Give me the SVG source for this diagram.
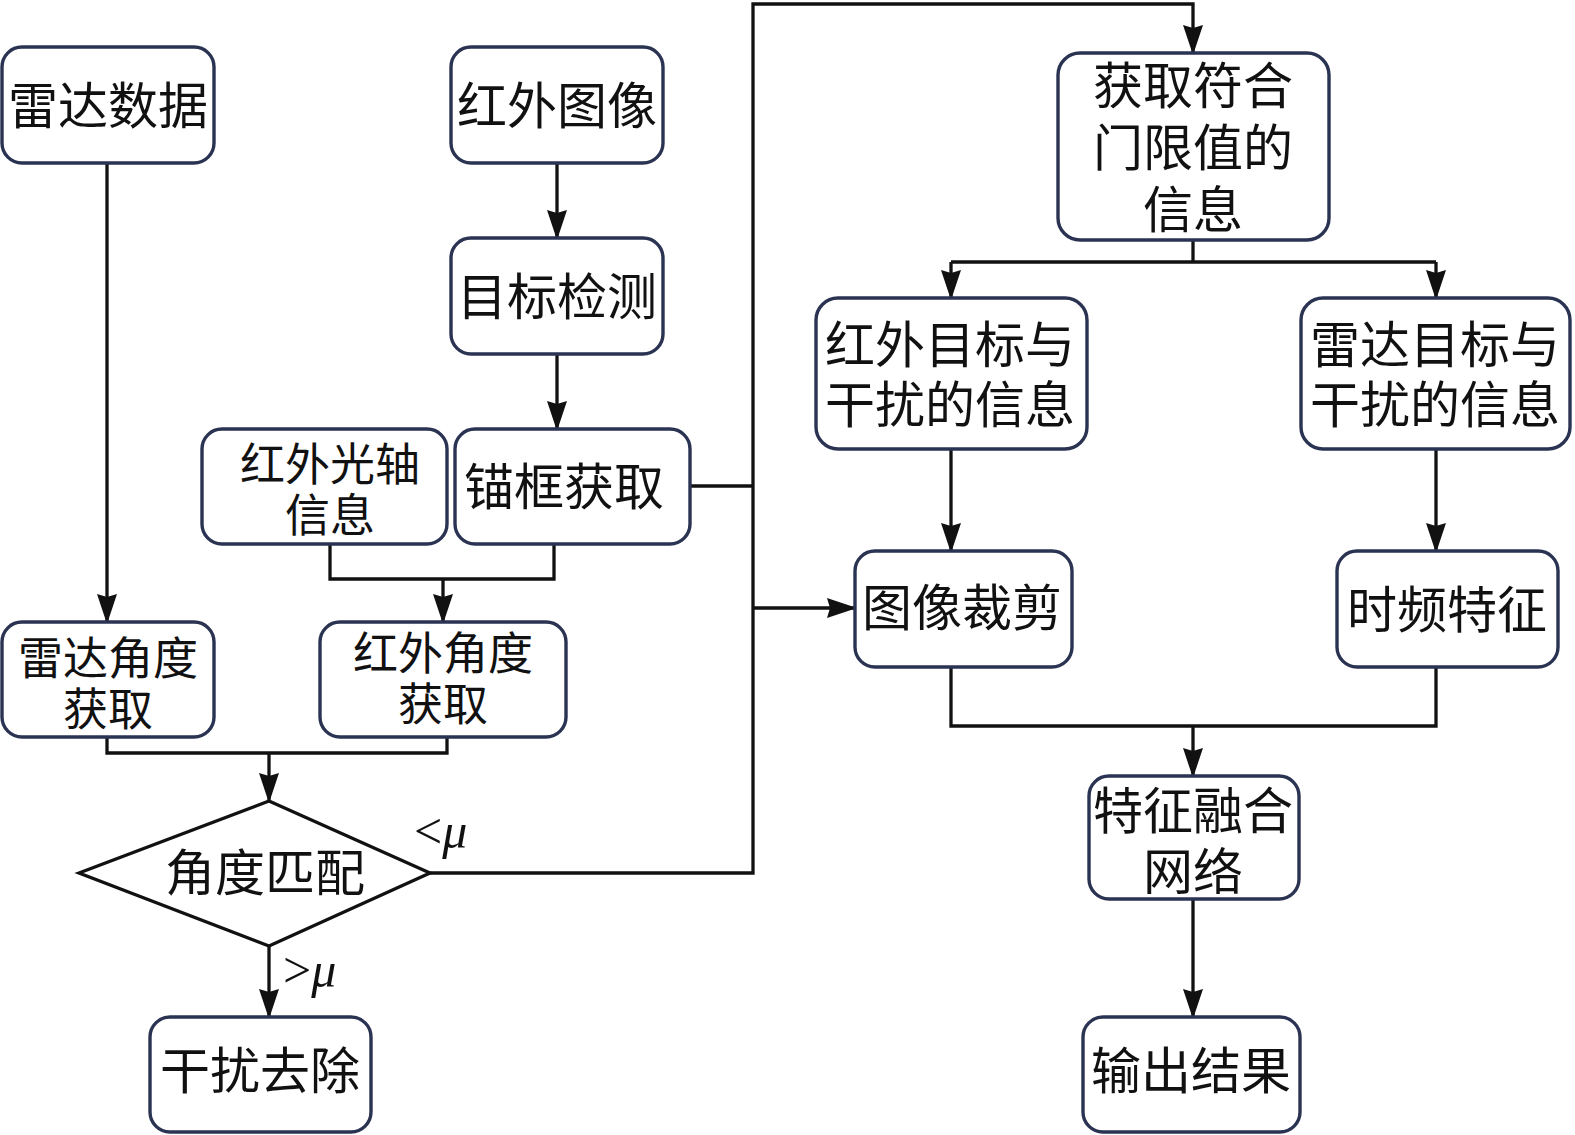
<svg xmlns="http://www.w3.org/2000/svg" width="1575" height="1135" viewBox="0 0 1575 1135">
<style>
.box{fill:#fff;stroke:#2b3352;stroke-width:3.4}
.t{font-family:"Liberation Sans","Noto Sans CJK SC","Noto Sans CJK JP",sans-serif;font-size:50px;fill:#111;text-anchor:middle;dominant-baseline:central}
.s{font-size:45px}
.c{fill:none;stroke:#111;stroke-width:3.3}
.m{font-family:"Liberation Serif",serif;font-size:50px;fill:#111}
</style>
<defs>
<marker id="ar" markerUnits="userSpaceOnUse" markerWidth="30" markerHeight="20" refX="28" refY="10" orient="auto" viewBox="0 0 30 20">
<path d="M0,0 L30,10 L0,20 L3,10 Z" fill="#111"/>
</marker>
</defs>
<g id="connectors">
<line class="c" x1="107" y1="163" x2="107" y2="622" marker-end="url(#ar)"/>
<line class="c" x1="557" y1="163" x2="557" y2="238" marker-end="url(#ar)"/>
<line class="c" x1="557" y1="354" x2="557" y2="429" marker-end="url(#ar)"/>
<polyline class="c" points="330,544 330,579 554,579 554,544"/>
<line class="c" x1="443" y1="579" x2="443" y2="622" marker-end="url(#ar)"/>
<polyline class="c" points="107,737 107,753 447,753 447,737"/>
<line class="c" x1="269" y1="753" x2="269" y2="801" marker-end="url(#ar)"/>
<line class="c" x1="269" y1="946" x2="269" y2="1017" marker-end="url(#ar)"/>
<polyline class="c" points="430,873 753,873 753,4 1193,4 1193,53" marker-end="url(#ar)"/>
<line class="c" x1="690" y1="486" x2="753" y2="486"/>
<line class="c" x1="753" y1="608" x2="855" y2="608" marker-end="url(#ar)"/>
<line class="c" x1="1193" y1="240" x2="1193" y2="262"/>
<line class="c" x1="951" y1="262" x2="1436" y2="262"/>
<line class="c" x1="951" y1="262" x2="951" y2="298" marker-end="url(#ar)"/>
<line class="c" x1="1436" y1="262" x2="1436" y2="298" marker-end="url(#ar)"/>
<line class="c" x1="951" y1="449" x2="951" y2="551" marker-end="url(#ar)"/>
<line class="c" x1="1436" y1="449" x2="1436" y2="551" marker-end="url(#ar)"/>
<polyline class="c" points="951,667 951,726 1436,726 1436,667"/>
<line class="c" x1="1193" y1="726" x2="1193" y2="776" marker-end="url(#ar)"/>
<line class="c" x1="1193" y1="899" x2="1193" y2="1017" marker-end="url(#ar)"/>
<text class="m" x="414" y="848">&lt;<tspan font-style="italic">μ</tspan></text>
<text class="m" x="283" y="987">&gt;<tspan font-style="italic">μ</tspan></text>
</g>
<g id="n1"><rect class="box" x="2" y="47" width="212" height="116" rx="20"/><text class="t" x="108" y="107">雷达数据</text></g>
<g id="n2"><rect class="box" x="451" y="47" width="212" height="116" rx="20"/><text class="t" x="557" y="107">红外图像</text></g>
<g id="n3"><rect class="box" x="451" y="238" width="212" height="116" rx="20"/><text class="t" x="557" y="298">目标检测</text></g>
<g id="n4"><rect class="box" x="202" y="429" width="245" height="115" rx="20"/><text class="t s"><tspan x="330" y="465">红外光轴</tspan><tspan x="330" y="516">信息</tspan></text></g>
<g id="n5"><rect class="box" x="455" y="429" width="235" height="115" rx="20"/><text class="t" x="564" y="488">锚框获取</text></g>
<g id="n6"><rect class="box" x="2" y="622" width="212" height="115" rx="20"/><text class="t s"><tspan x="108" y="659">雷达角度</tspan><tspan x="108" y="710">获取</tspan></text></g>
<g id="n7"><rect class="box" x="320" y="622" width="246" height="115" rx="20"/><text class="t s"><tspan x="443" y="654">红外角度</tspan><tspan x="443" y="705">获取</tspan></text></g>
<g id="n8"><polygon class="c" points="79,873 269,801 430,873 269,946"/><text class="t" x="265" y="874">角度匹配</text></g>
<g id="n9"><rect class="box" x="150" y="1017" width="221" height="115" rx="20"/><text class="t" x="260" y="1072">干扰去除</text></g>
<g id="n10"><rect class="box" x="1058" y="53" width="271" height="187" rx="22"/><text class="t"><tspan x="1193" y="87">获取符合</tspan><tspan x="1193" y="149">门限值的</tspan><tspan x="1193" y="211">信息</tspan></text></g>
<g id="n11"><rect class="box" x="816" y="298" width="271" height="151" rx="22"/><text class="t"><tspan x="950" y="346">红外目标与</tspan><tspan x="950" y="406">干扰的信息</tspan></text></g>
<g id="n12"><rect class="box" x="1301" y="298" width="269" height="151" rx="22"/><text class="t"><tspan x="1435" y="346">雷达目标与</tspan><tspan x="1435" y="406">干扰的信息</tspan></text></g>
<g id="n13"><rect class="box" x="855" y="551" width="217" height="116" rx="20"/><text class="t" x="962" y="609">图像裁剪</text></g>
<g id="n14"><rect class="box" x="1337" y="551" width="221" height="116" rx="20"/><text class="t" x="1447" y="611">时频特征</text></g>
<g id="n15"><rect class="box" x="1089" y="776" width="210" height="123" rx="20"/><text class="t"><tspan x="1193" y="812">特征融合</tspan><tspan x="1193" y="873">网络</tspan></text></g>
<g id="n16"><rect class="box" x="1083" y="1017" width="217" height="115" rx="20"/><text class="t" x="1191" y="1072">输出结果</text></g>
</svg>
